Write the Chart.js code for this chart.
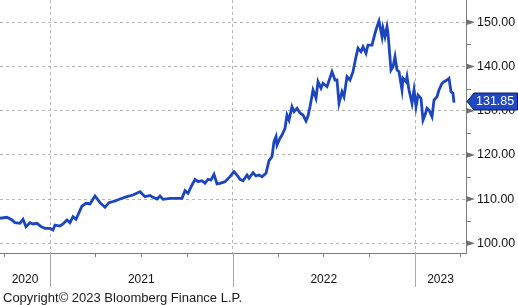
<!DOCTYPE html>
<html>
<head>
<meta charset="utf-8">
<script src="https://cdn.jsdelivr.net/npm/chart.js@4.4.0/dist/chart.umd.min.js"></script>
<style>
  html, body { margin: 0; padding: 0; background: #fff; }
</style>
</head>
<body>
<canvas id="chart" width="518" height="305"></canvas>
<script>
const dates = [
  '2020-09-23','2020-10-07','2020-10-17','2020-10-23','2020-11-02','2020-11-08','2020-11-14','2020-11-22','2020-11-28','2020-12-06',
  '2020-12-14','2020-12-22','2021-01-01','2021-01-07','2021-01-11','2021-01-21','2021-01-27','2021-02-04','2021-02-10','2021-02-16',
  '2021-02-22','2021-02-28','2021-03-06','2021-03-14','2021-03-22','2021-04-01','2021-04-11','2021-04-21','2021-04-29','2021-05-11',
  '2021-05-21','2021-06-04','2021-06-16','2021-06-30','2021-07-10','2021-07-20','2021-07-24','2021-08-03','2021-08-09','2021-08-15',
  '2021-08-29','2021-09-12','2021-09-22','2021-09-28','2021-10-04','2021-10-12','2021-10-18','2021-10-24','2021-11-01','2021-11-07',
  '2021-11-13','2021-11-19','2021-11-25','2021-12-01','2021-12-07','2021-12-17','2021-12-27','2022-01-04','2022-01-10','2022-01-16',
  '2022-01-22','2022-01-30','2022-02-03','2022-02-11','2022-02-17','2022-02-23','2022-03-01','2022-03-09','2022-03-15','2022-03-21',
  '2022-03-25','2022-03-29','2022-03-31','2022-04-06','2022-04-10','2022-04-16','2022-04-20','2022-04-24','2022-04-30','2022-05-04',
  '2022-05-10','2022-05-16','2022-05-22','2022-05-28','2022-06-01','2022-06-05','2022-06-11','2022-06-17','2022-06-21','2022-06-27',
  '2022-07-01','2022-07-09','2022-07-19','2022-07-25','2022-07-29','2022-08-02','2022-08-08','2022-08-12','2022-08-18','2022-08-24',
  '2022-08-30','2022-09-05','2022-09-09','2022-09-15','2022-09-19','2022-09-25','2022-09-29','2022-10-07','2022-10-13','2022-10-17',
  '2022-10-21','2022-10-27','2022-10-29','2022-11-02','2022-11-06','2022-11-08','2022-11-14','2022-11-18','2022-11-22','2022-11-26',
  '2022-11-30','2022-12-06','2022-12-08','2022-12-14','2022-12-16','2022-12-20','2022-12-26','2022-12-30','2023-01-03','2023-01-07',
  '2023-01-13','2023-01-17','2023-01-21','2023-01-25','2023-01-29','2023-02-04','2023-02-08','2023-02-14','2023-02-18','2023-02-24',
  '2023-02-28','2023-03-06','2023-03-10','2023-03-14','2023-03-18','2023-03-20'
];
const values = [
  105.66,105.88,105.27,104.66,104.52,105.43,103.76,104.66,104.37,104.52,
  103.76,103.39,103.39,103.01,104.14,103.91,104.37,105.27,104.66,106.02,
  105.43,106.92,108.44,109.05,108.89,110.70,109.19,108.14,109.19,109.57,
  110.02,110.54,110.93,111.67,110.54,110.81,110.54,110.02,110.70,109.95,
  110.18,110.18,110.18,111.90,111.31,113.19,114.48,113.94,114.16,113.57,
  114.48,114.32,115.61,113.42,113.57,113.94,115.07,116.20,115.45,114.48,
  114.16,115.45,114.71,115.97,115.23,115.45,115.07,115.84,118.69,119.59,
  122.99,124.12,122.24,123.76,124.50,126.02,129.03,127.90,130.90,129.77,
  130.54,129.48,129.03,127.67,128.80,130.90,134.68,132.81,136.56,135.07,
  136.20,135.43,138.82,136.95,136.95,131.67,134.30,133.17,137.69,136.95,
  138.82,142.22,144.12,143.35,144.48,142.99,144.86,144.86,147.51,149.00,
  150.29,146.74,148.64,146.74,149.00,147.51,139.21,139.95,142.22,139.21,
  138.82,134.68,137.33,136.56,137.69,134.68,131.67,134.68,130.90,133.55,
  132.81,127.90,129.03,130.54,130.16,128.64,132.42,133.17,134.68,136.20,
  136.56,136.95,137.33,134.30,133.94,131.85
];
const yearLabels = ['2020', '2021', '2022', '2023'];
const yTickValues = [100, 110, 120, 130, 140, 150];
const xRange = ['2020-09-23', '2023-04-13'];
const yRange = [97.8, 155.05];
const copyright = 'Copyright\u00a9 2023 Bloomberg Finance L.P.';

const BLUE = '#1c46c0';
const GRID = '#b4b4b4';
const AXIS = '#7c7c7c';
const FONT = "'Liberation Sans', Arial, sans-serif";

const toDay = s => Date.parse(s + 'T00:00:00Z') / 864e5;
const xMin = toDay(xRange[0]);
const xMax = toDay(xRange[1]);

// quarter starts and year starts inside the visible range
const quarterDays = [];
const yearDays = [];
yearLabels.forEach(yr => {
  [0, 3, 6, 9].forEach(m => {
    const d = Date.UTC(+yr, m, 1) / 864e5;
    if (d >= xMin && d <= xMax) {
      quarterDays.push(d);
      if (m === 0) yearDays.push(d);
    }
  });
});
// year labels sit in the middle of the visible part of each year
const midLabel = new Map();
yearLabels.forEach(yr => {
  const a = Math.max(xMin, Date.UTC(+yr, 0, 1) / 864e5);
  const b = Math.min(xMax, Date.UTC(+yr + 1, 0, 1) / 864e5);
  midLabel.set((a + b) / 2, yr);
});

const points = dates.map((d, i) => ({ x: toDay(d), y: values[i] }));

// keep the plot area flush with the canvas edges
const noPad = (scale, size) => {
  if (scale.isHorizontal()) scale.height = size; else scale.width = size;
  scale.paddingLeft = scale.paddingRight = scale.paddingTop = scale.paddingBottom = 0;
};

const decorations = {
  id: 'decorations',
  afterDraw(chart) {
    const { ctx, chartArea: a, scales: { x, y } } = chart;
    ctx.save();
    ctx.lineWidth = 1;

    // quarter ticks + long year separators under the x axis
    quarterDays.forEach(d => {
      const px = Math.round(x.getPixelForValue(d)) + 0.5;
      const isYear = yearDays.includes(d);
      ctx.strokeStyle = isYear ? '#a8a8a8' : AXIS;
      ctx.beginPath();
      ctx.moveTo(px, a.bottom);
      ctx.lineTo(px, a.bottom + (isYear ? 34 : 4));
      ctx.stroke();
    });

    // y axis: triangles at major ticks, short marks at the halves
    ctx.fillStyle = '#707070';
    ctx.strokeStyle = AXIS;
    yTickValues.forEach(v => {
      const py = y.getPixelForValue(v);
      ctx.beginPath();
      ctx.moveTo(a.right, py - 3);
      ctx.lineTo(a.right + 9, py);
      ctx.lineTo(a.right, py + 3);
      ctx.closePath();
      ctx.fill();
      const half = v + 5;
      if (half < yRange[1] - 1) {
        const ph = Math.round(y.getPixelForValue(half)) + 0.5;
        ctx.beginPath();
        ctx.moveTo(a.right, ph);
        ctx.lineTo(a.right + 5, ph);
        ctx.stroke();
      }
    });

    // last value tag
    const last = values[values.length - 1];
    const ty = y.getPixelForValue(last) - 1;
    ctx.beginPath();
    ctx.moveTo(a.right + 1, ty);
    ctx.lineTo(a.right + 8, ty - 8.5);
    ctx.lineTo(517.5, ty - 8.5);
    ctx.lineTo(517.5, ty + 8.5);
    ctx.lineTo(a.right + 8, ty + 8.5);
    ctx.closePath();
    ctx.fillStyle = '#2148c2';
    ctx.fill();
    ctx.strokeStyle = '#0c1c4e';
    ctx.stroke();
    ctx.fillStyle = '#ffffff';
    ctx.font = '12.5px ' + FONT;
    ctx.textAlign = 'left';
    ctx.textBaseline = 'middle';
    ctx.fillText(last.toFixed(2), a.right + 10, ty + 0.5);

    // source line
    ctx.fillStyle = '#1a1a1a';
    ctx.font = '13px ' + FONT;
    ctx.textBaseline = 'alphabetic';
    ctx.fillText(copyright, 3, 302);
    ctx.restore();
  }
};

new Chart(document.getElementById('chart').getContext('2d'), {
  type: 'line',
  data: {
    datasets: [{
      data: points,
      borderColor: BLUE,
      borderWidth: 2.8,
      pointRadius: 0,
      tension: 0,
      fill: false
    }]
  },
  options: {
    responsive: false,
    animation: false,
    layout: { padding: 0 },
    plugins: { legend: { display: false }, tooltip: { enabled: false } },
    scales: {
      x: {
        type: 'linear',
        min: xMin,
        max: xMax,
        afterBuildTicks: scale => {
          const all = quarterDays.concat([...midLabel.keys()]).sort((p, q) => p - q);
          scale.ticks = all.map(v => ({ value: v }));
        },
        afterFit: scale => noPad(scale, 52),
        grid: {
          drawTicks: false,
          color: c => (c.tick && yearDays.includes(c.tick.value)) ? GRID : 'rgba(0,0,0,0)',
          lineWidth: 1
        },
        border: { display: true, color: AXIS, width: 1, dash: [3, 3] },
        ticks: {
          autoSkip: false,
          maxRotation: 0,
          padding: 19,
          color: '#111',
          font: { family: FONT, size: 12 },
          callback: v => midLabel.get(v) || ''
        }
      },
      y: {
        position: 'right',
        min: yRange[0],
        max: yRange[1],
        afterBuildTicks: scale => { scale.ticks = yTickValues.map(v => ({ value: v })); },
        afterFit: scale => noPad(scale, 52),
        grid: { drawTicks: false, color: GRID, lineWidth: 1 },
        border: { display: true, color: AXIS, width: 1, dash: [3, 3] },
        ticks: {
          padding: 11,
          color: '#111',
          font: { family: FONT, size: 12.5 },
          callback: v => v.toFixed(2)
        }
      }
    }
  },
  plugins: [decorations]
});
</script>
</body>
</html>
